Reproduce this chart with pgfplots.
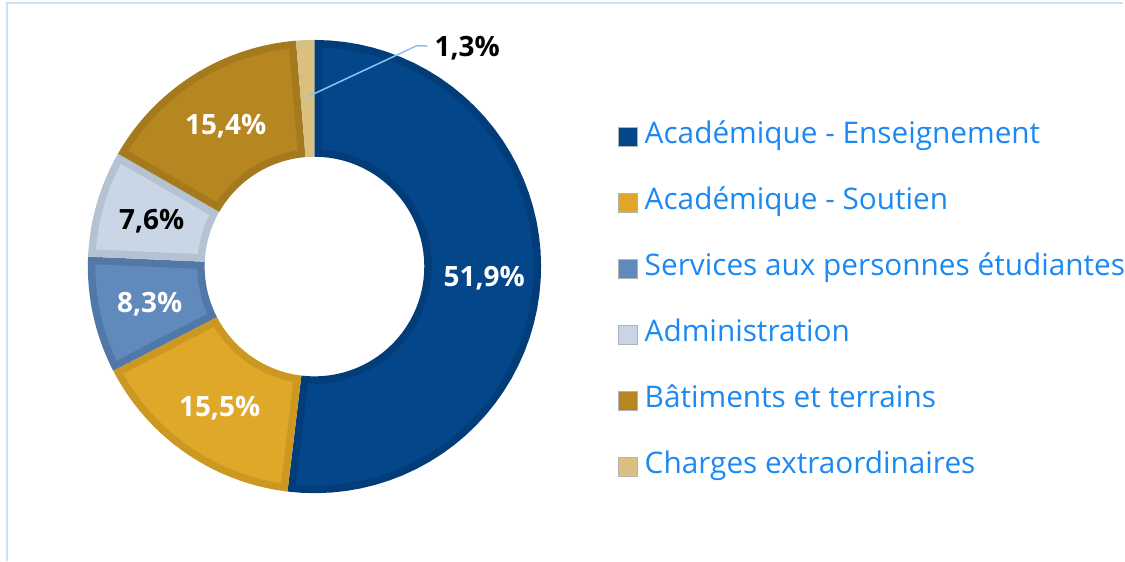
\documentclass[border=0pt]{standalone}
\usepackage{pgfplots}
\pgfplotsset{compat=1.18}
\usepackage{pgfplotstable}
\usepackage{fontspec}
\setmainfont{Open Sans}

\definecolor{mainA}{RGB}{3,71,138}\definecolor{bordA}{RGB}{2,61,121}
\definecolor{mainB}{RGB}{224,168,40}\definecolor{bordB}{RGB}{204,152,34}
\definecolor{mainC}{RGB}{96,138,188}\definecolor{bordC}{RGB}{82,120,168}
\definecolor{mainD}{RGB}{200,214,230}\definecolor{bordD}{RGB}{180,194,210}
\definecolor{mainE}{RGB}{182,134,32}\definecolor{bordE}{RGB}{165,122,30}
\definecolor{mainF}{RGB}{218,192,128}
\definecolor{legblue}{RGB}{28,137,243}
\definecolor{frameblue}{RGB}{205,226,248}
\definecolor{leader}{RGB}{140,195,245}

\pgfplotstableread{
label value
A 51.9
B 15.5
C 8.3
D 7.6
E 15.4
F 1.3
}\budget

% geometry of the donut (pixel units)
\def\cx{315}\def\cy{295}\def\Rout{227}\def\Rin{110}\def\bw{7.5}

% segment: #1 start angle, #2 end angle, #3 outer r, #4 inner r,
% #5 angular inset at outer r, #6 angular inset at inner r, #7 colour
\newcommand\seg[7]{%
\addplot[forget plot, draw=none, fill=#7, domain=0:3, samples=151, variable=\t]
 ({\cx+ifthenelse(\t<1.5, (#3)*cos((#1-(#5))+min(\t,1)*((#2+(#5))-(#1-(#5)))), (#4)*cos((#2+(#6))+max(\t-2,0)*((#1-(#6))-(#2+(#6)))))},
  {\cy+ifthenelse(\t<1.5, (#3)*sin((#1-(#5))+min(\t,1)*((#2+(#5))-(#1-(#5)))), (#4)*sin((#2+(#6))+max(\t-2,0)*((#1-(#6))-(#2+(#6)))))});
}

\begin{document}%
\begin{tikzpicture}
\pgfplotstablegetelem{0}{value}\of\budget\let\vA\pgfplotsretval
\pgfplotstablegetelem{1}{value}\of\budget\let\vB\pgfplotsretval
\pgfplotstablegetelem{2}{value}\of\budget\let\vC\pgfplotsretval
\pgfplotstablegetelem{3}{value}\of\budget\let\vD\pgfplotsretval
\pgfplotstablegetelem{4}{value}\of\budget\let\vE\pgfplotsretval
\pgfplotstablegetelem{5}{value}\of\budget\let\vF\pgfplotsretval
\pgfmathsetmacro\aA{90}
\pgfmathsetmacro\aB{\aA-3.6*\vA}
\pgfmathsetmacro\aC{\aB-3.6*\vB}
\pgfmathsetmacro\aD{\aC-3.6*\vC}
\pgfmathsetmacro\aE{\aD-3.6*\vD}
\pgfmathsetmacro\aF{\aE-3.6*\vE}
\pgfmathsetmacro\aG{\aF-3.6*\vF}
\pgfmathsetmacro\Ro{\Rout-\bw}
\pgfmathsetmacro\Ri{\Rin+\bw}
\pgfmathsetmacro\io{asin(\bw/\Ro)}
\pgfmathsetmacro\ii{asin(\bw/\Ri)}
\begin{axis}[
  scale only axis, width=1125pt, height=562pt,
  xmin=0, xmax=1125, ymin=0, ymax=562,
  hide axis, clip=false,
  legend cell align=left,
  legend style={at={(axis cs:619,439.5)}, anchor=north west, draw=none, fill=none,
    font=\fontsize{29.8}{34}\selectfont, text=legblue, row sep=38.2pt, column sep=7pt,
    inner sep=0pt, nodes={inner sep=0pt, text height=21pt, text depth=7pt}},
  legend image code/.code={\draw[#1, draw=gray!60, line width=0.6pt] (0pt,-9.5pt) rectangle (19pt,9.5pt);},
]
\path (axis cs:0,0) rectangle (axis cs:1125,562);
% frame
\draw[frameblue, line width=1.5pt] (axis cs:7,0) -- (axis cs:7,559) -- (axis cs:1125,559);

\seg{\aA}{\aB}{\Rout}{\Rin}{0}{0}{bordA}
\seg{\aA}{\aB}{\Ro}{\Ri}{\io}{\ii}{mainA}
\seg{\aB}{\aC}{\Rout}{\Rin}{0}{0}{bordB}
\seg{\aB}{\aC}{\Ro}{\Ri}{\io}{\ii}{mainB}
\seg{\aC}{\aD}{\Rout}{\Rin}{0}{0}{bordC}
\seg{\aC}{\aD}{\Ro}{\Ri}{\io}{\ii}{mainC}
\seg{\aD}{\aE}{\Rout}{\Rin}{0}{0}{bordD}
\seg{\aD}{\aE}{\Ro}{\Ri}{\io}{\ii}{mainD}
\seg{\aE}{\aF}{\Rout}{\Rin}{0}{0}{bordE}
\seg{\aE}{\aF}{\Ro}{\Ri}{\io}{\ii}{mainE}
\seg{\aF}{\aG}{\Rout}{\Rin}{0}{0}{mainF}

% data labels
\begin{scope}[every node/.style={font=\fontsize{28}{34}\selectfont\bfseries, anchor=base, inner sep=0pt}]
\node[text=white] at (axis cs:485,275) {51,9\%};
\node[text=white] at (axis cs:220,145) {15,5\%};
\node[text=white] at (axis cs:150,249) {8,3\%};
\node[text=black] at (axis cs:152,332) {7,6\%};
\node[text=white] at (axis cs:226,427) {15,4\%};
\node[text=black] at (axis cs:468,505) {1,3\%};
\end{scope}
\draw[leader, line width=1.5pt] (axis cs:308,465) -- (axis cs:417,516) -- (axis cs:428,516);

\addlegendimage{fill=mainA}
\addlegendentry{Académique - Enseignement}
\addlegendimage{fill=mainB}
\addlegendentry{Académique - Soutien}
\addlegendimage{fill=mainC}
\addlegendentry{Services aux personnes étudiantes}
\addlegendimage{fill=mainD}
\addlegendentry{Administration}
\addlegendimage{fill=mainE}
\addlegendentry{Bâtiments et terrains}
\addlegendimage{fill=mainF}
\addlegendentry{Charges extraordinaires}
\end{axis}
\end{tikzpicture}%
\end{document}
